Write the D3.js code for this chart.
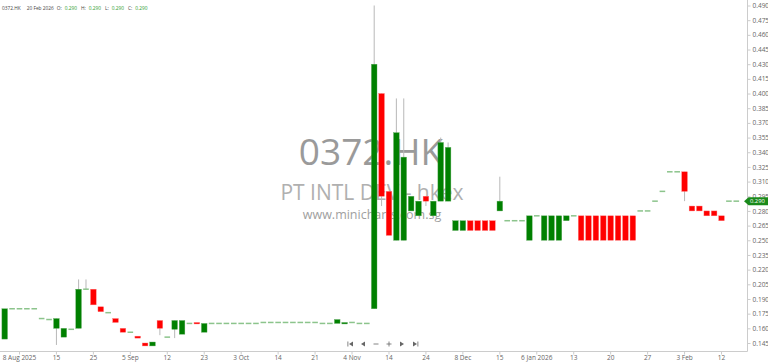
<!DOCTYPE html>
<meta charset="utf-8">
<style>
body { margin: 0; background: #fff; }
text { font-family: "Open Sans", sans-serif; }
.axis path, .axis line { stroke: #ccc; }
.axis text { fill: #666; font-size: 6.5px; }
</style>
<body>
<svg width="768" height="363"></svg>
</body>
<script src="https://d3js.org/d3.v7.min.js"></script>
<script>

// daily bars, 0372.HK
var opens  = [0.149,0.180,0.180,0.180,0.180,0.170,0.169,0.160,0.151,0.159,
              0.160,0.200,0.200,0.182,0.176,0.170,0.160,0.156,0.152,0.145,
              0.142,0.168,0.151,0.159,0.154,0.165,0.166,0.156,0.165,0.165,
              0.165,0.165,0.165,0.165,0.165,0.166,0.166,0.166,0.166,0.166,
              0.166,0.166,0.166,0.165,0.165,0.165,0.165,0.166,0.165,0.165,
              0.180,0.400,0.300,0.250,0.250,0.280,0.275,0.295,0.275,0.290,
              0.290,0.260,0.260,0.270,0.270,0.270,0.270,0.280,0.270,0.270,
              0.270,0.250,0.275,0.250,0.250,0.250,0.270,0.275,0.275,0.275,
              0.275,0.275,0.275,0.275,0.275,0.275,0.280,0.280,0.290,0.300,
              0.320,0.320,0.320,0.285,0.285,0.280,0.280,0.275,0.290,0.290];
var highs  = [0.180,0.180,0.180,0.180,0.180,0.170,0.169,0.170,0.160,0.159,
              0.210,0.210,0.200,0.182,0.176,0.170,0.160,0.156,0.152,0.145,
              0.146,0.168,0.151,0.168,0.168,0.165,0.166,0.165,0.165,0.165,
              0.165,0.165,0.165,0.165,0.165,0.166,0.166,0.166,0.166,0.166,
              0.166,0.166,0.166,0.165,0.165,0.169,0.166,0.166,0.165,0.165,
              0.490,0.400,0.300,0.395,0.395,0.295,0.290,0.295,0.290,0.355,
              0.350,0.270,0.270,0.270,0.270,0.270,0.270,0.315,0.270,0.270,
              0.270,0.275,0.275,0.275,0.275,0.275,0.275,0.275,0.275,0.275,
              0.275,0.275,0.275,0.275,0.275,0.275,0.280,0.280,0.290,0.300,
              0.320,0.320,0.320,0.285,0.285,0.280,0.280,0.275,0.290,0.290];
var lows   = [0.149,0.180,0.180,0.180,0.180,0.170,0.169,0.143,0.151,0.159,
              0.160,0.200,0.184,0.177,0.176,0.166,0.156,0.156,0.150,0.142,
              0.142,0.153,0.151,0.150,0.154,0.165,0.165,0.156,0.165,0.165,
              0.165,0.165,0.165,0.165,0.165,0.166,0.166,0.166,0.166,0.166,
              0.166,0.166,0.166,0.165,0.165,0.165,0.165,0.166,0.165,0.165,
              0.180,0.285,0.255,0.250,0.250,0.280,0.275,0.285,0.275,0.290,
              0.290,0.260,0.260,0.260,0.260,0.260,0.260,0.280,0.270,0.270,
              0.270,0.250,0.275,0.250,0.250,0.250,0.270,0.275,0.250,0.250,
              0.250,0.250,0.250,0.250,0.250,0.250,0.280,0.280,0.290,0.300,
              0.320,0.320,0.290,0.280,0.280,0.275,0.275,0.270,0.290,0.290];
var closes = [0.180,0.180,0.180,0.180,0.180,0.170,0.169,0.170,0.160,0.159,
              0.200,0.200,0.184,0.177,0.176,0.166,0.156,0.156,0.150,0.142,
              0.146,0.160,0.151,0.168,0.168,0.165,0.165,0.165,0.165,0.165,
              0.165,0.165,0.165,0.165,0.165,0.166,0.166,0.166,0.166,0.166,
              0.166,0.166,0.166,0.165,0.165,0.169,0.166,0.166,0.165,0.165,
              0.430,0.295,0.255,0.360,0.335,0.295,0.290,0.290,0.290,0.350,
              0.345,0.270,0.270,0.260,0.260,0.260,0.260,0.290,0.270,0.270,
              0.270,0.275,0.275,0.275,0.275,0.275,0.275,0.275,0.250,0.250,
              0.250,0.250,0.250,0.250,0.250,0.250,0.280,0.280,0.290,0.300,
              0.320,0.320,0.300,0.280,0.280,0.275,0.275,0.270,0.290,0.290];

// x axis: a label every 5 bars starting at bar 2
var tickBars   = [2,7,12,17,22,27,32,37,42,47,52,57,62,67,72,77,82,87,92,97];
var tickLabels = ["8 Aug 2025","15","25","5 Sep","12","23","3 Oct","14","21","4 Nov",
                  "14","24","8 Dec","15","6 Jan 2026","13","20","27","3 Feb","12"];
var priceTicks = d3.range(0.145, 0.4951, 0.015);

var lastDate = "20 Feb 2026";

var svg = d3.select("svg");

var x = d3.scaleLinear().domain([0, 99]).range([4.2, 735.8]);
var y = d3.scaleLinear().domain([0.145, 0.490]).range([343, 5.5]);
var fmt = d3.format(".3f");

var bars = opens.map(function(o, i) {
  return {i: i, o: o, h: highs[i], l: lows[i], c: closes[i]};
});
var last = closes.length - 1;

// watermark
var wm = svg.append("g").attr("text-anchor", "middle");
wm.append("text").attr("x", 371).attr("y", 165)
    .style("font-size", "37px").style("fill", "#9a9a9a").text("0372.HK");
wm.append("text").attr("x", 372).attr("y", 200)
    .style("font-size", "21px").style("fill", "#b0b0b0").text("PT INTL DEV - hkex");
wm.append("text").attr("x", 372).attr("y", 219)
    .style("font-size", "12.5px").style("fill", "#a0a0a0").text("www.minicharts.com.sg");

// axes
var yAxis = svg.append("g")
    .attr("class", "axis")
    .attr("transform", "translate(747.5,0)")
    .call(d3.axisRight(y).tickValues(priceTicks).tickFormat(fmt).tickSize(3).tickPadding(2))
    .call(function(g) { g.select(".domain").attr("d", "M0,0V351.5"); });
// the last price badge sits on top of its own tick label
yAxis.selectAll(".tick text")
    .filter(function(d) { return fmt(d) === fmt(closes[last]); })
    .remove();

svg.append("g")
    .attr("class", "axis")
    .attr("transform", "translate(0,351.5)")
    .call(d3.axisBottom(x).tickValues(tickBars)
        .tickFormat(function(d, i) { return tickLabels[i]; }).tickSize(3).tickPadding(1))
    .call(function(g) { g.select(".domain").attr("d", "M0,0H747.5"); });

// candles
var cw = 5.6;
var candle = svg.append("g").selectAll("g")
    .data(bars)
    .enter().append("g");

candle.filter(function(d) { return d.h > Math.max(d.o, d.c) || d.l < Math.min(d.o, d.c); })
  .append("line")
    .attr("x1", function(d) { return x(d.i) + 0.5; })
    .attr("x2", function(d) { return x(d.i) + 0.5; })
    .attr("y1", function(d) { return y(d.h); })
    .attr("y2", function(d) { return y(d.l); })
    .attr("stroke", "#b8b8b8")
    .attr("stroke-width", 1);

candle.filter(function(d) { return d.o !== d.c; })
  .append("rect")
    .attr("x", function(d) { return x(d.i) - cw / 2 + 0.5; })
    .attr("y", function(d) { return y(Math.max(d.o, d.c)); })
    .attr("width", cw)
    .attr("height", function(d) { return Math.max(1.5, Math.abs(y(d.o) - y(d.c))); })
    .attr("fill", function(d) { return d.c > d.o ? "#008000" : "#ff0000"; })
    .attr("stroke", function(d) { return d.c > d.o ? "#5aa85a" : "#ff7070"; })
    .attr("stroke-width", 0.4);

candle.filter(function(d) { return d.o === d.c; })
  .append("rect")
    .attr("x", function(d) { return x(d.i) - cw / 2 + 0.5; })
    .attr("y", function(d) { return y(d.c) - 0.75; })
    .attr("width", cw)
    .attr("height", 1.5)
    .attr("fill", "#8cc48c");

// last price badge
var lastY = y(closes[last]);
svg.append("path")
    .attr("d", "M744," + lastY + "L748.5," + (lastY - 4) + "H768V" + (lastY + 4) + "H748.5Z")
    .attr("fill", "#1a8a1a");
svg.append("text").attr("x", 750).attr("y", lastY + 2.1)
    .style("font-size", "5.8px").style("fill", "#fff")
    .text(fmt(closes[last]));

// header
var hdr = [
  {t: "0372.HK", c: "#444", gap: 0},
  {t: lastDate, c: "#444", gap: 6},
  {t: "O:", c: "#444", gap: 3},
  {t: fmt(opens[last]), c: "#2a9a2a", gap: 3},
  {t: "H:", c: "#444", gap: 4},
  {t: fmt(highs[last]), c: "#2a9a2a", gap: 3},
  {t: "L:", c: "#444", gap: 4},
  {t: fmt(lows[last]), c: "#2a9a2a", gap: 3},
  {t: "C:", c: "#444", gap: 4},
  {t: fmt(closes[last]), c: "#2a9a2a", gap: 3}
];
var hx = 2;
svg.append("g").selectAll("text")
    .data(hdr)
    .enter().append("text")
    .attr("y", 9.5)
    .style("font-size", "4.8px")
    .style("fill", function(d) { return d.c; })
    .text(function(d) { return d.t; })
    .each(function(d) {
      hx += d.gap;
      d3.select(this).attr("x", hx);
      hx += this.getComputedTextLength();
    });

// navigation buttons
var nav = svg.append("g").attr("fill", "#666").attr("stroke", "#666");
var cy = 344;
nav.append("rect").attr("x", 347.5).attr("y", cy - 2.5).attr("width", 0.8).attr("height", 5).attr("stroke", "none");
nav.append("path").attr("d", "M349," + cy + "L353," + (cy - 2.5) + "V" + (cy + 2.5) + "Z").attr("stroke", "none");
nav.append("path").attr("d", "M361," + cy + "L365," + (cy - 2.5) + "V" + (cy + 2.5) + "Z").attr("stroke", "none");
nav.append("line").attr("x1", 373.5).attr("x2", 378.5).attr("y1", cy).attr("y2", cy).attr("stroke-width", 0.8);
nav.append("line").attr("x1", 386.5).attr("x2", 391.5).attr("y1", cy).attr("y2", cy).attr("stroke-width", 0.8);
nav.append("line").attr("x1", 389).attr("x2", 389).attr("y1", cy - 2.5).attr("y2", cy + 2.5).attr("stroke-width", 0.8);
nav.append("path").attr("d", "M404," + cy + "L400," + (cy - 2.5) + "V" + (cy + 2.5) + "Z").attr("stroke", "none");
nav.append("path").attr("d", "M417," + cy + "L413," + (cy - 2.5) + "V" + (cy + 2.5) + "Z").attr("stroke", "none");
nav.append("rect").attr("x", 417.5).attr("y", cy - 2.5).attr("width", 0.8).attr("height", 5).attr("stroke", "none");

</script>
</html>
